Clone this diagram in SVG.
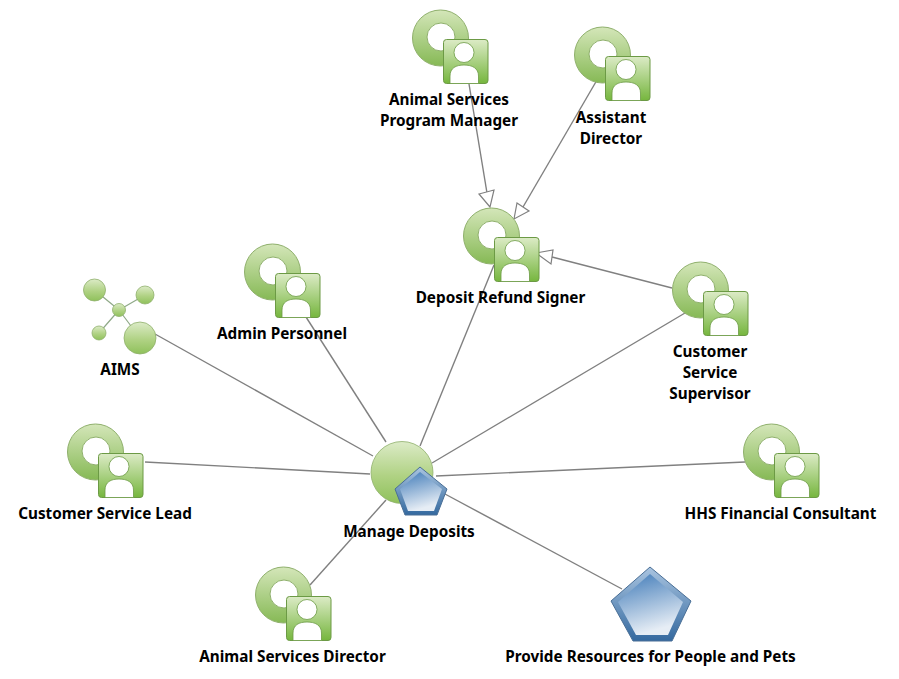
<svg xmlns="http://www.w3.org/2000/svg" width="899" height="679" viewBox="0 0 899 679">
<style>
text{font-family:"Noto Sans","Open Sans","DejaVu Sans",sans-serif;font-weight:700;font-size:15.3px;fill:#000;text-anchor:middle}
.c{stroke:#808080;stroke-width:1.4;fill:none}
.a{stroke:#808080;stroke-width:1.2;fill:#fff}
.ball{stroke:#8fb06c;stroke-width:.8;fill:url(#ball)}
.po{fill:url(#edge);stroke:#4a6f96;stroke-width:1;stroke-linejoin:round}
.pi{fill:url(#blue)}
</style>
<defs>
<linearGradient id="ring" x1="0" y1="0" x2="0" y2="1"><stop offset="0" stop-color="#d4e6b9"/><stop offset="1" stop-color="#86b955"/></linearGradient>
<linearGradient id="sq" x1="0" y1="0" x2="0" y2="1"><stop offset="0" stop-color="#dcebc6"/><stop offset="1" stop-color="#76b63e"/></linearGradient>
<linearGradient id="ball" x1="0" y1="0" x2="0" y2="1"><stop offset="0" stop-color="#dcebc7"/><stop offset=".55" stop-color="#b0d284"/><stop offset="1" stop-color="#8fc15b"/></linearGradient>
<linearGradient id="blue" x1="0" y1="0" x2="0.3" y2="1"><stop offset="0" stop-color="#3f7ab8"/><stop offset="1" stop-color="#e6edf5"/></linearGradient>
<linearGradient id="edge" x1="0" y1="0" x2="0" y2="1"><stop offset="0" stop-color="#a9c4e0"/><stop offset="1" stop-color="#34699f"/></linearGradient>
<g id="actor">
<circle cx="28.500" cy="28" r="28" fill="url(#ring)" stroke="#8fb06c"/>
<circle cx="29" cy="27" r="14" fill="#fff" stroke="#8fb06c"/>
<rect x="31.500" y="29.500" width="44.500" height="44" rx="3" fill="url(#sq)" stroke="#6c9a45"/>
<path d="M38 73.500V66C38 58 44 55 52 55C60 55 66.500 58 66.500 66V73.500Z" fill="#fff" stroke="#6c9a45" stroke-width=".8"/>
<circle cx="52" cy="42.500" r="10" fill="#fff" stroke="#6c9a45" stroke-width=".8"/>
</g>
</defs>
<rect width="899" height="679" fill="#fff"/>
<g id="connectors">
<line class="c" x1="469" y1="84" x2="487" y2="193"/>
<line class="c" x1="597" y1="80" x2="523" y2="207"/>
<line class="c" x1="672" y1="288" x2="552" y2="257"/>
<line class="c" x1="494" y1="265" x2="420" y2="446"/>
<line class="c" x1="685" y1="313" x2="432" y2="463"/>
<line class="c" x1="745" y1="462" x2="436" y2="476"/>
<line class="c" x1="622" y1="589" x2="445" y2="494"/>
<line class="c" x1="310" y1="585" x2="386" y2="500"/>
<line class="c" x1="145" y1="462" x2="370" y2="474"/>
<line class="c" x1="155" y1="334" x2="373" y2="456"/>
<line class="c" x1="306" y1="317" x2="386" y2="442"/>
<polygon class="a" points="490,207 479,194 494,190"/>
<polygon class="a" points="514,219 517,203 529,211"/>
<polygon class="a" points="536,253 553,250 551,264"/>
</g>
<g id="program-manager"><use href="#actor" x="412" y="10"/><text x="449" y="105">Animal Services</text><text x="449" y="126">Program Manager</text></g>
<g id="assistant-director"><use href="#actor" x="574" y="27"/><text x="611" y="123">Assistant</text><text x="611" y="144">Director</text></g>
<g id="deposit-refund-signer"><use href="#actor" x="463" y="208"/><text x="500.500" y="303">Deposit Refund Signer</text></g>
<g id="supervisor"><use href="#actor" x="672" y="262"/><text x="710" y="357">Customer</text><text x="710" y="378">Service</text><text x="710" y="399">Supervisor</text></g>
<g id="admin-personnel"><use href="#actor" x="244" y="244"/><text x="282" y="339">Admin Personnel</text></g>
<g id="aims">
<path d="M94.500 290L119 310M145 295L119 310M99 333L119 310M140 338L119 310" stroke="#8fa987" stroke-width="1.2" fill="none"/>
<circle class="ball" cx="94.500" cy="290" r="11"/><circle class="ball" cx="145" cy="295" r="9"/><circle class="ball" cx="119" cy="310" r="6.500"/><circle class="ball" cx="99" cy="333" r="7"/><circle class="ball" cx="140" cy="338" r="16"/>
<text x="120" y="375">AIMS</text></g>
<g id="cs-lead"><use href="#actor" x="67" y="424"/><text x="105" y="519">Customer Service Lead</text></g>
<g id="hhs-consultant"><use href="#actor" x="743" y="424"/><text x="780.500" y="519">HHS Financial Consultant</text></g>
<g id="manage-deposits">
<circle class="ball" cx="402" cy="472.500" r="31"/>
<polygon class="po" points="420,467 447,489 437,515 405,515 395,489"/>
<polygon class="pi" points="420,472 442,489 434,511 408,511 400,489"/>
<text x="409" y="537">Manage Deposits</text></g>
<g id="animal-services-director"><use href="#actor" x="255" y="567"/><text x="292.500" y="662">Animal Services Director</text></g>
<g id="provide-resources">
<polygon class="po" points="650,567 691,601 672,641 633,641 611,601"/>
<polygon class="pi" points="650,574 683,602 668,635 636,635 618,602"/>
<text x="650.500" y="662">Provide Resources for People and Pets</text></g>
</svg>
